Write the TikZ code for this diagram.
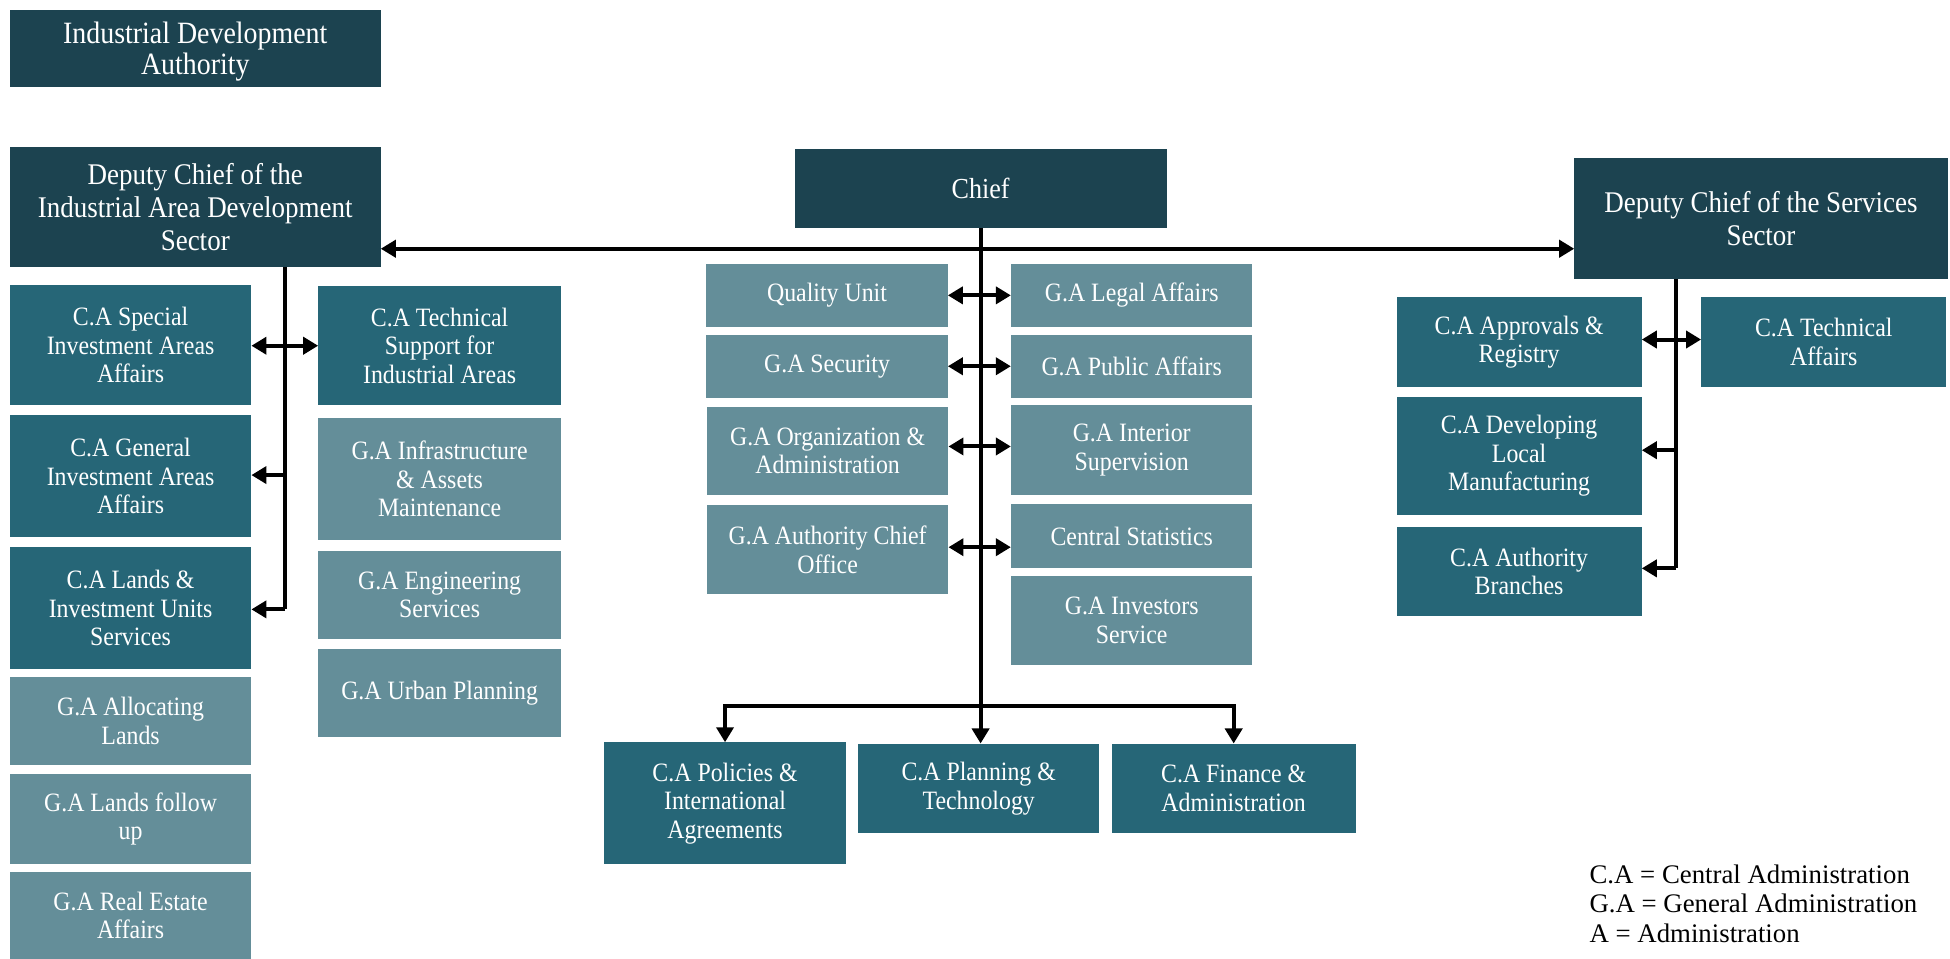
\documentclass[tikz,border=0pt]{standalone}
\usepackage{fontspec}
\setmainfont{Liberation Serif}
\newfontfamily\boxfont{Liberation Serif}[FakeStretch=0.9]
\usetikzlibrary{arrows.meta}
\definecolor{cdark}{HTML}{1C4350}
\definecolor{cmid}{HTML}{266677}
\definecolor{clight}{HTML}{648E99}
\tikzset{
  bx/.style 2 args={minimum width=#1*1.2436pt, minimum height=#2*1.2436pt},
  base/.style={rectangle, inner sep=1pt, text=white, align=center, font=\boxfont\fontsize{26.5}{28.5}\selectfont},
  dk/.style={base, fill=cdark},
  md/.style={base, fill=cmid},
  lt/.style={base, fill=clight},
  conn/.style={line width=4pt, draw=black},
  tip/.tip={Triangle[length=15pt,width=17pt]},
  one/.style={conn, -tip},
  two/.style={conn, tip-tip},
}
\begin{document}
\begin{tikzpicture}[x=1.2436pt, y=-1.2436pt]
\useasboundingbox (0,0) rectangle (1568,771);
% top boxes
\node[dk, bx={298}{62}, text depth=0pt, font=\boxfont\fontsize{31}{31}\selectfont] (ida) at (157,39) {Industrial Development\\Authority};
\node[dk, bx={298}{97}, font=\boxfont\fontsize{30}{33}\selectfont] (dl) at (157,166.5) {Deputy Chief of the\\Industrial Area Development\\Sector};
\node[dk, bx={299}{63}, font=\boxfont\fontsize{29}{31}\selectfont] (chief) at (788.5,151.5) {Chief};
\node[dk, bx={300}{97}, font=\boxfont\fontsize{30}{33}\selectfont] (dr) at (1416,175.5) {Deputy Chief of the Services\\Sector};
% left column A
\node[md, bx={194}{97}] (spec) at (105,277.5) {C.A Special\\Investment Areas\\Affairs};
\node[md, bx={194}{98}] (gen) at (105,383) {C.A General\\Investment Areas\\Affairs};
\node[md, bx={194}{98}] (lands) at (105,489) {C.A Lands \&\\Investment Units\\Services};
\node[lt, bx={194}{71}] (alloc) at (105,579.5) {G.A Allocating\\Lands};
\node[lt, bx={194}{73}] (follow) at (105,658.5) {G.A Lands follow\\up};
\node[lt, bx={194}{70}] (realest) at (105,736) {G.A Real Estate\\Affairs};
% left column B
\node[md, bx={195}{96}] (techsup) at (353.5,278) {C.A Technical\\Support for\\Industrial Areas};
\node[lt, bx={195}{98}] (infra) at (353.5,385) {G.A Infrastructure\\\& Assets\\Maintenance};
\node[lt, bx={195}{71}] (eng) at (353.5,478.5) {G.A Engineering\\Services};
\node[lt, bx={195}{71}] (urban) at (353.5,557.5) {G.A Urban Planning};
% centre left
\node[lt, bx={194}{51}] (quality) at (665,237.5) {Quality Unit};
\node[lt, bx={194}{51}] (security) at (665,294.5) {G.A Security};
\node[lt, bx={194}{71}] (org) at (665.5,362.5) {G.A Organization \&\\Administration};
\node[lt, bx={194}{72}] (office) at (665.5,442) {G.A Authority Chief\\Office};
% centre right
\node[lt, bx={194}{51}] (legal) at (910,237.5) {G.A Legal Affairs};
\node[lt, bx={194}{51}] (public) at (910,294.5) {G.A Public Affairs};
\node[lt, bx={194}{72}] (interior) at (910,362) {G.A Interior\\Supervision};
\node[lt, bx={194}{52}] (stats) at (910,431) {Central Statistics};
\node[lt, bx={194}{72}] (investors) at (910,499) {G.A Investors\\Service};
% bottom
\node[md, bx={194}{98}] (policies) at (583,646) {C.A Policies \&\\International\\Agreements};
\node[md, bx={194}{72}] (planning) at (787,634) {C.A Planning \&\\Technology};
\node[md, bx={196}{72}] (finance) at (992,634) {C.A Finance \&\\Administration};
% right
\node[md, bx={197}{72}] (approv) at (1221.5,275) {C.A Approvals \&\\Registry};
\node[md, bx={197}{72}] (techaff) at (1466.5,275) {C.A Technical\\Affairs};
\node[md, bx={197}{95}] (develop) at (1221.5,366.5) {C.A Developing\\Local\\Manufacturing};
\node[md, bx={197}{71}] (branches) at (1221.5,459.5) {C.A Authority\\Branches};
% legend
\node[anchor=north west, align=left, inner sep=0pt, font=\fontsize{26.8}{29.8}\selectfont] (legend) at (1278,695) {C.A = Central Administration\\G.A = General Administration\\A = Administration};
% connectors
\coordinate (hy) at (0,200);
\draw[two] (hy -| dl.east) -- (hy -| dr.west);
\coordinate (junc) at (788.5,568);
\draw[conn] (chief.south) -- (junc);
\draw[one] (junc) -- (junc |- planning.north);
\draw[one] (junc) -| (policies.north);
\draw[one] (junc) -| (finance.north);
\draw[two] (quality.east) -- (legal.west);
\draw[two] (security.east) -- (public.west);
\draw[two] (org.east |- 0,359) -- (interior.west |- 0,359);
\draw[two] (office.east |- 0,440) -- (stats.west |- 0,440);
% left branch
\coordinate (lv) at (229,215);
\coordinate (lb) at (229,490);
\draw[conn] (lv) -- (lb);
\draw[one] (lb) -- (lb -| lands.east);
\draw[one] (229,382) -- (gen.east |- 0,382);
\draw[two] (spec.east |- 0,278) -- (techsup.west |- 0,278);
% right branch
\coordinate (rv) at (1348,224);
\coordinate (rb) at (1348,457);
\draw[conn] (rv) -- (rb);
\draw[one] (rb) -- (rb -| branches.east);
\draw[one] (1348,362) -- (develop.east |- 0,362);
\draw[two] (approv.east |- 0,273) -- (techaff.west |- 0,273);
\end{tikzpicture}
\end{document}
